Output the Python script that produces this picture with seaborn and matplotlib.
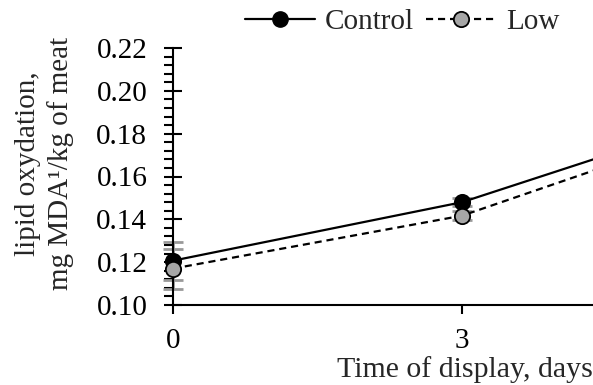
import matplotlib
matplotlib.use("Agg")
import matplotlib.pyplot as plt
import seaborn as sns
import pandas as pd
import numpy as np
from matplotlib.ticker import MultipleLocator

days = [0, 3, 6]
control = [0.1207, 0.148, 0.192]
low = [0.117, 0.1417, 0.188]
control_sd = [0.0088, 0.002, 0.004]
low_sd = [0.0093, 0.002, 0.004]
series_names = ["Control", "Low"]
x_ticks = [0, 3]
y_ticks = [0.10, 0.12, 0.14, 0.16, 0.18, 0.20, 0.22]

sns.set_theme(style="ticks")
plt.rcParams["font.family"] = ["Liberation Serif", "DejaVu Serif"]
plt.rcParams["font.size"] = 21

df = pd.DataFrame({
    "day": days * 2,
    "value": control + low,
    "group": [series_names[0]] * len(days) + [series_names[1]] * len(days),
})

fig = plt.figure(figsize=(5.93, 3.85), dpi=100)
ax = fig.add_axes([173 / 593, 80 / 385, 420 / 593, 257 / 385])

# error bars (gray), drawn below lines
for vals, sds in [(control, control_sd), (low, low_sd)]:
    ax.errorbar(days, vals, yerr=sds, fmt="none", ecolor="#999999",
                elinewidth=2.0, capsize=7, capthick=2.0, zorder=2, clip_on=False)

sns.lineplot(data=df, x="day", y="value", hue="group", style="group",
             palette={"Control": "black", "Low": "black"},
             dashes={"Control": "", "Low": (3.2, 2.2)},
             markers={"Control": "o", "Low": "o"},
             markersize=11, linewidth=1.6, ax=ax, legend=False, zorder=3)

lines = ax.get_lines()
mfc = {"Control": "black", "Low": "#a6a6a6"}
for ln, name in zip(lines[-2:], series_names):
    ln.set_markerfacecolor(mfc[name])
    ln.set_markeredgecolor("black")
    ln.set_markeredgewidth(1.3)
    ln.set_clip_on(False)

ax.set_xlim(0, 4.36)
ax.set_ylim(0.10, 0.22)
ax.set_xticks(x_ticks)
ax.set_xticklabels([str(t) for t in x_ticks])
ax.set_yticks(y_ticks)
ax.set_yticklabels([f"{t:.2f}" for t in y_ticks])
ax.yaxis.set_minor_locator(MultipleLocator(0.004))

for side in ["top", "right"]:
    ax.spines[side].set_visible(False)
for side in ["left", "bottom"]:
    ax.spines[side].set_linewidth(1.5)
    ax.spines[side].set_color("black")

ax.tick_params(axis="y", which="major", direction="inout", length=13, width=1.5,
               pad=12, labelsize=21, colors="black")
ax.tick_params(axis="y", which="minor", direction="out", length=6.5, width=1.5,
               colors="black")
ax.tick_params(axis="x", which="major", direction="out", length=6.5, width=1.5,
               pad=10, labelsize=21, colors="black")

ax.set_xlabel("Time of display, days", fontsize=21.5, ha="right", va="top")
ax.xaxis.set_label_coords(1.0, -0.197)
ax.set_ylabel("lipid oxydation,\nmg MDA\u00b9/kg of meat", fontsize=21,
              linespacing=1.3)
ax.yaxis.set_label_coords(-0.235, 0.55)

handles = [
    plt.Line2D([], [], color="black", lw=1.6, marker="o", markersize=11,
               markerfacecolor="black", markeredgecolor="black"),
    plt.Line2D([], [], color="black", lw=1.6, ls=(0, (3.2, 2.2)), marker="o",
               markersize=11, markerfacecolor="#a6a6a6", markeredgecolor="black",
               markeredgewidth=1.3),
]
fig.legend(handles, series_names, loc="center left",
           bbox_to_anchor=(245 / 593, 1 - 22 / 385), ncol=2, frameon=False,
           fontsize=21, handlelength=2.4, handletextpad=0.35,
           columnspacing=0.4, borderpad=0, borderaxespad=0)

fig.savefig("out.png", dpi=100)
